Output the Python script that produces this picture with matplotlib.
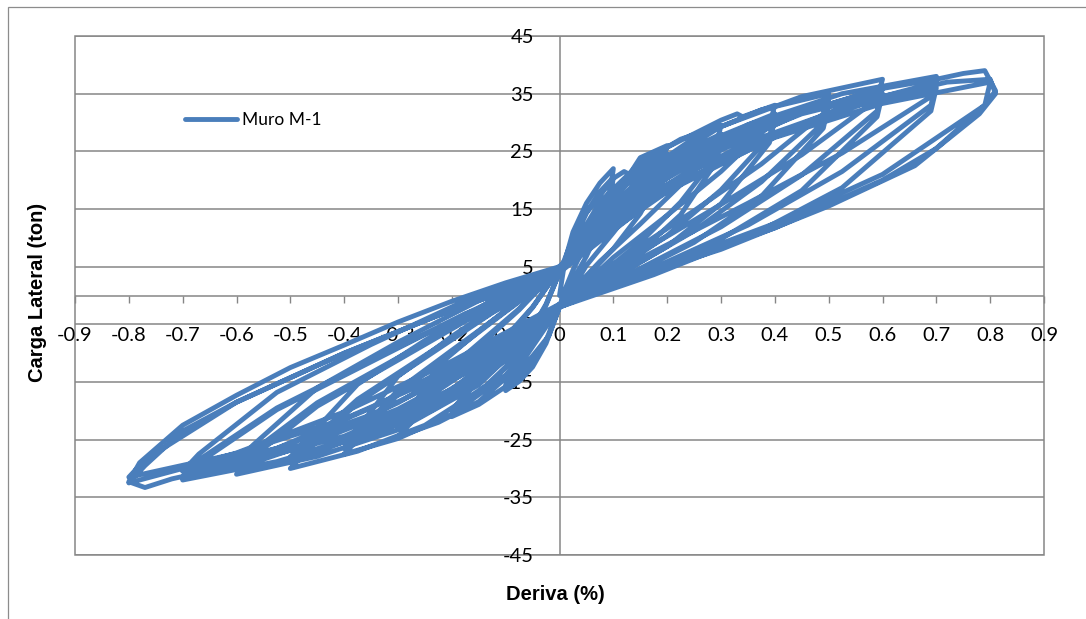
import matplotlib
matplotlib.use("Agg")
import matplotlib.pyplot as plt
from matplotlib.patches import Rectangle

plt.rcParams['font.family'] = ['Lato', 'DejaVu Sans']

# Hysteresis record of wall M-1: (drift %, lateral load ton), grouped by drift level
loop_01 = [(0, 0), (0.01, 6), (0.025, 11), (0.05, 16), (0.075, 19.5), (0.10, 22),
           (0.095, 18.5), (0.075, 14.3), (0.05, 9.2), (0.025, 4.4), (0.01, 1), (0.0, -2),
           (-0.025, -8.3), (-0.05, -12.4), (-0.075, -14.9), (-0.10, -16.5),
           (-0.085, -13.5), (-0.075, -10.2), (-0.05, -5.9), (-0.025, -1.7), (0.0, 4),
           (0.025, 10), (0.05, 14.4), (0.075, 18), (0.10, 20.5),
           (0.095, 17), (0.075, 11.9), (0.05, 6.8), (0.025, 2.7), (0.0, -2),
           (-0.025, -7.8), (-0.05, -11.6), (-0.075, -14), (-0.10, -15.5),
           (-0.085, -12.5), (-0.075, -9.6), (-0.05, -5.6), (-0.025, -1.5), (0.0, 4)]

loop_02 = [(0.05, 14.3), (0.10, 20.3), (0.12, 21.5), (0.13, 21), (0.15, 23.9), (0.20, 26),
           (0.19, 22.5), (0.15, 16.9), (0.10, 10.9), (0.05, 5.2), (0.02, 0.5), (0.0, -2),
           (-0.02, -7), (-0.05, -10.5), (-0.10, -15.8), (-0.15, -18.9), (-0.20, -21),
           (-0.175, -18), (-0.15, -13), (-0.10, -7.6), (-0.05, -2.1), (-0.02, 2), (0.0, 4.5),
           (0.05, 11), (0.10, 17.2), (0.15, 21.6), (0.20, 24.5),
           (0.19, 21), (0.15, 14.2), (0.10, 8.1), (0.05, 3.2), (0.0, -2),
           (-0.05, -7), (-0.10, -12.4), (-0.15, -16.8), (-0.20, -20),
           (-0.175, -17), (-0.15, -12.4), (-0.10, -7.2), (-0.05, -2), (0.0, 4.5)]

loop_03 = [(0.075, 16.2), (0.15, 23), (0.225, 27.1), (0.30, 29.5),
           (0.29, 25.5), (0.225, 19.2), (0.15, 12.4), (0.075, 5.9), (0.02, 0.5), (0.0, -2),
           (-0.075, -12.3), (-0.15, -18.4), (-0.225, -22), (-0.30, -24.5),
           (-0.27, -21.5), (-0.225, -15.2), (-0.15, -8.8), (-0.075, -2.5), (-0.03, 2), (0.0, 5),
           (0.075, 12.6), (0.15, 19.6), (0.225, 24.6), (0.30, 28),
           (0.29, 24), (0.225, 16.2), (0.15, 9.2), (0.075, 3.6), (0.0, -2),
           (-0.075, -8), (-0.15, -14.3), (-0.225, -19.3), (-0.30, -23),
           (-0.27, -20), (-0.225, -14.3), (-0.15, -8.3), (-0.075, -2.3), (0.0, 4.5),
           (0.075, 13.5), (0.15, 20), (0.225, 24.3), (0.30, 27),
           (0.29, 23), (0.225, 14), (0.15, 7.6), (0.075, 2.7), (0.0, -2),
           (-0.075, -9.2), (-0.15, -15), (-0.225, -19.1), (-0.30, -22),
           (-0.27, -19), (-0.225, -12.1), (-0.15, -6.2), (-0.075, -0.7), (0.0, 4.5)]

loop_04 = [(0.10, 18.2), (0.20, 25.7), (0.30, 30.4), (0.33, 31.5), (0.34, 31), (0.40, 33),
           (0.39, 29.5), (0.30, 21.5), (0.20, 13.9), (0.10, 6.6), (0.03, 0.5), (0.0, -2),
           (-0.10, -13.8), (-0.20, -20.6), (-0.30, -24.8), (-0.40, -27.5),
           (-0.37, -24.5), (-0.30, -17.1), (-0.20, -9.9), (-0.10, -2.8), (-0.03, 2), (0.0, 5),
           (0.10, 14.2), (0.20, 22), (0.30, 27.7), (0.40, 31.5),
           (0.39, 27.5), (0.30, 18.3), (0.20, 10.4), (0.10, 4.1), (0.0, -2),
           (-0.10, -9.3), (-0.20, -16.4), (-0.30, -22.3), (-0.40, -26.5),
           (-0.37, -23.5), (-0.30, -16.4), (-0.20, -9.5), (-0.10, -2.7), (0.0, 4.5),
           (0.10, 15.3), (0.20, 22.6), (0.30, 27.5), (0.40, 30.5),
           (0.39, 26.5), (0.30, 15.9), (0.20, 8.5), (0.10, 3.1), (0.0, -2),
           (-0.10, -10.7), (-0.20, -17.3), (-0.30, -22.2), (-0.40, -25.5),
           (-0.37, -22.5), (-0.30, -14), (-0.20, -7.1), (-0.10, -0.8), (0.0, 4.5)]

loop_05 = [(0.125, 19.3), (0.25, 27.3), (0.375, 32.2), (0.50, 35),
           (0.49, 31.5), (0.375, 22.8), (0.25, 14.7), (0.125, 7), (0.03, 0.5), (0.0, -2),
           (-0.125, -15), (-0.25, -22.5), (-0.375, -27), (-0.50, -30),
           (-0.47, -27), (-0.375, -18.6), (-0.25, -10.8), (-0.125, -3), (-0.03, 2), (0.0, 5),
           (0.125, 15.3), (0.25, 23.8), (0.375, 29.9), (0.50, 34),
           (0.49, 30), (0.375, 19.7), (0.25, 11.2), (0.125, 4.4), (0.0, -2),
           (-0.125, -10.2), (-0.25, -18), (-0.375, -24.4), (-0.50, -29),
           (-0.47, -26), (-0.375, -18), (-0.25, -10.4), (-0.125, -2.9), (0.0, 4.5),
           (0.125, 16.5), (0.25, 24.4), (0.375, 29.7), (0.50, 33),
           (0.49, 29), (0.375, 17.2), (0.25, 9.2), (0.125, 3.3), (0.0, -2),
           (-0.125, -11.8), (-0.25, -19), (-0.375, -24.4), (-0.50, -28),
           (-0.47, -25), (-0.375, -15.4), (-0.25, -7.8), (-0.125, -0.8), (0.0, 4.5)]

loop_06 = [(0.15, 20.6), (0.30, 29.3), (0.45, 34.5), (0.60, 37.5),
           (0.59, 34), (0.45, 24.4), (0.30, 15.8), (0.15, 7.5), (0.03, 0.5), (0.0, -2),
           (-0.15, -15.5), (-0.30, -23.3), (-0.45, -27.9), (-0.60, -31),
           (-0.57, -28), (-0.45, -19.2), (-0.30, -11.2), (-0.15, -3.1), (-0.03, 2), (0.0, 5),
           (0.15, 16.2), (0.30, 25.2), (0.45, 31.7), (0.60, 36),
           (0.59, 32), (0.45, 20.9), (0.30, 11.9), (0.15, 4.7), (0.0, -2),
           (-0.15, -10.5), (-0.30, -18.6), (-0.45, -25.2), (-0.60, -30),
           (-0.57, -27), (-0.45, -18.6), (-0.30, -10.8), (-0.15, -3), (0.0, 4.5),
           (0.15, 17.5), (0.30, 25.9), (0.45, 31.5), (0.60, 35),
           (0.59, 31), (0.45, 18.2), (0.30, 9.8), (0.15, 3.5), (0.0, -2),
           (-0.15, -12.2), (-0.30, -19.7), (-0.45, -25.2), (-0.60, -29),
           (-0.57, -26), (-0.45, -16), (-0.30, -8.1), (-0.15, -0.9), (0.0, 4.5)]

loop_07 = [(0.175, 20.9), (0.35, 29.6), (0.525, 35), (0.70, 38),
           (0.69, 34.5), (0.525, 24.7), (0.35, 16), (0.175, 7.6), (0.03, 0.5), (0.0, -2),
           (-0.175, -16), (-0.35, -24), (-0.525, -28.8), (-0.70, -32),
           (-0.67, -29), (-0.525, -19.8), (-0.35, -11.5), (-0.175, -3.2), (-0.03, 2), (0.0, 5),
           (0.175, 16.7), (0.35, 25.9), (0.525, 32.6), (0.70, 37),
           (0.69, 33), (0.525, 21.5), (0.35, 12.2), (0.175, 4.8), (0.0, -2),
           (-0.175, -11), (-0.35, -19.5), (-0.525, -26.5), (-0.70, -31.5),
           (-0.67, -28.5), (-0.525, -19.5), (-0.35, -11.3), (-0.175, -3.2), (0.0, 4.5),
           (0.175, 18), (0.35, 26.6), (0.525, 32.4), (0.70, 36),
           (0.69, 32), (0.525, 18.7), (0.35, 10.1), (0.175, 3.6), (0.0, -2),
           (-0.175, -12.8), (-0.35, -20.7), (-0.525, -26.5), (-0.70, -30.5),
           (-0.67, -27.5), (-0.525, -16.8), (-0.35, -8.5), (-0.175, -0.9), (0.0, 4.5)]

loop_08 = [(0.20, 21.5), (0.40, 30.4), (0.60, 35.9), (0.70, 37.5), (0.75, 38.5), (0.79, 39), (0.81, 35.5),
           (0.79, 33), (0.70, 25.5), (0.60, 20), (0.40, 11.7), (0.20, 5.3), (0.10, 2.2), (0.0, -1.5),
           (-0.20, -16.3), (-0.40, -24.4), (-0.60, -29.3), (-0.72, -31.8), (-0.77, -33.3), (-0.80, -32.3),
           (-0.78, -29), (-0.70, -22.5), (-0.60, -17.3), (-0.50, -12.5), (-0.40, -8.6), (-0.30, -4.6),
           (-0.20, -1), (-0.10, 2.2), (0.0, 5),
           (0.20, 18), (0.40, 27.5), (0.60, 34.5), (0.72, 37), (0.80, 37.5), (0.81, 35),
           (0.78, 31.5), (0.66, 22.5), (0.50, 15.5), (0.30, 8), (0.15, 3.5), (0.0, -1.5),
           (-0.20, -11.4), (-0.40, -20.2), (-0.60, -27.3), (-0.70, -30), (-0.80, -32.5),
           (-0.77, -29.5), (-0.70, -23.5), (-0.60, -18.5), (-0.40, -10), (-0.20, -2.5), (0.0, 4),
           (0.20, 18.5), (0.40, 27.4), (0.60, 33.3), (0.80, 37),
           (0.79, 33), (0.60, 21), (0.40, 12.5), (0.20, 5.5), (0.0, -2),
           (-0.20, -13.2), (-0.40, -21.4), (-0.60, -27.4), (-0.80, -31.5),
           (-0.77, -28.5), (-0.60, -18.5), (-0.40, -10), (-0.20, -2.5), (0.0, 4.5)]

x_ticks = [-0.9, -0.8, -0.7, -0.6, -0.5, -0.4, -0.3, -0.2, -0.1, 0, 0.1, 0.2, 0.3, 0.4, 0.5, 0.6, 0.7, 0.8, 0.9]
x_labels = ['-0.9', '-0.8', '-0.7', '-0.6', '-0.5', '-0.4', '-0.3', '-0.2', '-0.1', '0',
            '0.1', '0.2', '0.3', '0.4', '0.5', '0.6', '0.7', '0.8', '0.9']
y_ticks = [-45, -35, -25, -15, -5, 5, 15, 25, 35, 45]
y_labels = ['-45', '-35', '-25', '-15', '-5', '5', '15', '25', '35', '45']
series_name = 'Muro M-1'

drift, load = [], []
for loop in (loop_01, loop_02, loop_03, loop_04, loop_05, loop_06, loop_07, loop_08):
    for d, f in loop:
        drift.append(d)
        load.append(f)

W, H = 1086, 619
fig = plt.figure(figsize=(W / 100, H / 100), dpi=100)
grey = '#868686'
blue = '#4A7EBB'

# chart area frame
fig.patches.append(Rectangle((8 / W, -0.05), 1.2, 1.05 - 7 / H, transform=fig.transFigure,
                             fill=False, edgecolor='#8c8c8c', linewidth=0.9))

ax = fig.add_axes([75 / W, 1 - 555 / H, (1044 - 75) / W, (555 - 36) / H])
ax.set_xlim(-0.9, 0.9)
ax.set_ylim(-45, 45)

for s in ax.spines.values():
    s.set_visible(False)
ax.spines['bottom'].set_position(('data', 0))
ax.spines['left'].set_position(('data', 0))
ax.add_patch(Rectangle((0, 0), 1, 1, transform=ax.transAxes, fill=False,
                       edgecolor=grey, linewidth=1.1, zorder=1, clip_on=False))

for yv in y_ticks:
    ax.axhline(yv, color=grey, linewidth=1.1, zorder=1)
ax.axhline(0, color=grey, linewidth=1.1, zorder=1)
ax.axvline(0, color=grey, linewidth=1.1, zorder=1)

ax.plot(drift, load, color=blue, linewidth=3.5, solid_joinstyle='round',
        solid_capstyle='round', zorder=2, label=series_name)

ax.set_xticks(x_ticks)
ax.set_xticklabels(x_labels)
ax.set_yticks(y_ticks)
ax.set_yticklabels(y_labels)
ax.tick_params(axis='x', direction='out', length=5, width=1, color=grey,
               pad=18, labelsize=14.5)
ax.tick_params(axis='y', length=0, pad=18.5, labelsize=14.5)

bold_font = ['Liberation Sans', 'DejaVu Sans']
fig.text(38 / W, 1 - 292 / H, 'Carga Lateral (ton)', rotation=90, ha='center', va='center',
         fontsize=14.5, fontweight='bold', family=bold_font)
fig.text(555 / W, 1 - 594 / H, 'Deriva (%)', ha='center', va='center',
         fontsize=14.5, fontweight='bold', family=bold_font)

ax.legend(loc='center left', bbox_to_anchor=(185 / W, 1 - 120 / H),
          bbox_transform=fig.transFigure, frameon=False, fontsize=12.5,
          handlelength=3.0, handletextpad=0.3, borderpad=0, borderaxespad=0)

fig.savefig('out.png', dpi=100)
